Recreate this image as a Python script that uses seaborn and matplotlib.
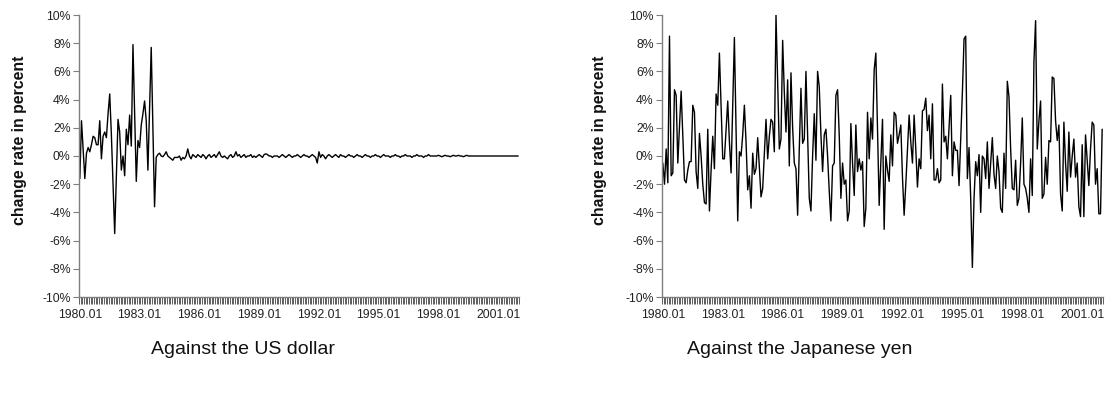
import matplotlib
matplotlib.use("Agg")
import matplotlib.pyplot as plt
import matplotlib.transforms as mtransforms
import seaborn as sns
import pandas as pd
from matplotlib.ticker import FixedLocator, FuncFormatter

sns.set_theme(style="white")
plt.rcParams['font.family'] = ['Liberation Sans', 'DejaVu Sans']

# ---- data: monthly change rate (%) of the exchange rate, 1980.01 - 2002.01 ----
usd_1980_1983 = [-1.6, 2.5, 0.5, -1.6, 0.2, 0.6, 0.3, 0.8, 1.4, 1.3, 0.8, 0.8,
                 2.5, -0.2, 1.4, 1.7, 1.3, 3.0, 4.4, 1.5, -2.0, -5.5, -1.5, 2.6,
                 1.7, -1.0, 0.0, -1.4, 1.9, 0.8, 2.9, 0.7, 7.9, 3.0, -1.8, 1.1,
                 0.6, 2.2, 3.0, 3.9, 2.5, -1.0, 3.3, 7.7, 2.0, -3.6, -0.1]
usd_1983_1990 = [0.1, 0.2, 0.0, -0.05, 0.1, 0.3, 0.0, -0.1, -0.2, -0.3, -0.1, -0.1,
                 -0.1, 0.0, -0.3, -0.1, -0.2, 0.0, 0.5, 0.0, -0.2, 0.1, 0.0, -0.1,
                 0.1, 0.0, -0.1, 0.1, 0.0, -0.2, 0.0, 0.1, -0.1, 0.0, 0.1, -0.1,
                 0.1, 0.3, 0.0, -0.1, 0.0, -0.1, -0.2, 0.0, 0.1, -0.1, 0.0, 0.3,
                 0.0, 0.1, -0.1, 0.0, 0.1, -0.1, 0.0, 0.0, 0.1, -0.1, 0.0, -0.1,
                 0.0, 0.1, 0.0, -0.1, 0.1, 0.15, 0.1, 0.0, 0.0, -0.1, 0.0, 0.0]
usd_1990_2002 = [0.0, -0.1, 0.0, 0.1, 0.0, -0.1, 0.0, 0.1, 0.0, -0.1, 0.0, 0.0,
                 0.1, 0.0, -0.1, 0.0, 0.1, 0.0, 0.0, -0.1, 0.0, 0.1, 0.0, -0.1,
                 -0.5, 0.3, -0.1, 0.1, 0.0, -0.2, 0.0, 0.1, 0.0, -0.1, 0.0, 0.1,
                 0.0, -0.1, 0.1, 0.0, 0.0, -0.1, 0.0, 0.1, 0.0, 0.0, -0.1, 0.0,
                 0.1, 0.0, 0.0, -0.1, 0.0, 0.1, 0.0, 0.0, -0.1, 0.0, 0.0, 0.1,
                 0.0, 0.0, -0.1, 0.0, 0.1, 0.0, 0.0, 0.0, -0.1, 0.0, 0.0, 0.1,
                 0.0, 0.0, -0.1, 0.0, 0.0, 0.1, 0.0, 0.0, 0.0, -0.1, 0.0, 0.0,
                 0.1, 0.0, 0.0, 0.0, -0.1, 0.0, 0.0, 0.1, 0.0, 0.0, 0.0, 0.0,
                 0.0, 0.05, 0.0, -0.05, 0.0, 0.05, 0.0, 0.0, -0.05, 0.0, 0.05, 0.0,
                 0.0, 0.05, 0.0, 0.0, -0.05, 0.0, 0.05, 0.0, 0.0, 0.0, 0.0, 0.0,
                 0.0, 0.0, 0.0, 0.0, 0.0, 0.0, 0.0, 0.0, 0.0, 0.0, 0.0, 0.0,
                 0.0, 0.0, 0.0, 0.0, 0.0, 0.0, 0.0, 0.0, 0.0, 0.0, 0.0, 0.0,
                 0.0, 0.0]

jpy_1980_1987 = [-0.5, -2.0, 0.5, -1.9, 8.5, -1.4, -1.2, 4.7, 4.3, -0.5, 2.0, 4.6,
                 1.5, -1.7, -1.9, -1.0, -0.4, -0.4, 3.6, 3.1, -1.1, -2.3, 1.6, 0.0,
                 -2.0, -3.3, -3.4, 1.9, -3.9, -1.0, 1.4, -0.9, 4.4, 3.6, 7.3, 3.5,
                 -0.2, -0.2, 1.8, 3.9, 1.0, -1.2, 3.5, 8.4, 2.0, -4.6, 0.3, 0.0,
                 1.5, 3.6, 1.0, -2.4, -1.4, -3.7, 0.2, -1.3, -0.9, 1.3, -0.8, -2.9,
                 -2.3, 0.2, 2.6, -0.2, 1.4, 2.6, 2.4, 0.3, 10.0, 5.2, 0.5, 1.2,
                 8.2, 4.5, 1.7, 5.4, -0.7, 5.9, 2.0, -0.5, -0.9, -4.2, 0.5, 4.8,
                 0.9, 1.2, 6.0, 1.5, -3.0, -3.9]
jpy_1987_1994 = [0.0, 3.0, -0.3, 6.0, 4.9, 1.5, -1.1, 1.5, 1.9, 0.0, -2.5, -4.6,
                 -0.7, -0.5, 4.3, 4.7, 1.5, -3.0, -0.5, -2.0, -1.7, -4.6, -3.9, 2.3,
                 -0.5, -2.8, 2.2, -1.1, -0.2, -1.0, -0.4, -5.0, -3.7, 3.1, -0.2, 2.7,
                 1.2, 6.1, 7.3, 2.0, -3.5, -0.5, 2.6, -5.2, 0.0, -1.0, -1.8, 1.5,
                 -0.7, 3.1, 2.9, 0.9, 1.5, 2.2, -1.5, -4.2, -2.0, 0.5, 2.9, 1.0,
                 -0.5, 2.9, 0.5, -2.2, -0.2, -0.9, 3.2, 3.3, 4.1, 1.8, 2.9, -0.2,
                 3.7, -1.7, -1.7, -0.9, -1.9, -1.7, 5.1, 1.0, 1.4, -0.2, 2.0, 4.3,
                 -1.4, 1.0]
jpy_1994_2002 = [0.4, 0.4, -2.1, 1.1, 4.5, 8.3, 8.5, -1.6, 0.6, -3.0, -7.9, -3.0,
                 -0.4, -1.4, 0.1, -4.0, 0.0, -0.2, -1.6, 1.0, -2.3, -0.5, 1.3, -1.3,
                 -2.3, 0.0, -1.1, -3.7, -4.0, 0.2, -2.3, 5.3, 4.2, 0.5, -2.3, -2.4,
                 -0.3, -3.5, -3.0, -0.5, 2.7, -2.0, -2.3, -3.0, -4.0, -0.2, -2.8, 6.7,
                 9.6, 0.5, 2.5, 3.9, -3.0, -2.7, -0.1, -2.0, 1.1, 1.0, 5.6, 5.5,
                 2.5, 1.1, 2.2, -2.7, -3.9, 2.4, -0.5, -2.5, 1.7, -1.5, 0.0, 1.2,
                 -1.5, -0.5, -3.6, -4.3, 0.8, -4.3, 1.5, -0.3, -2.1, 0.5, 2.4, 2.2,
                 -2.0, -0.9, -4.1, -4.1, 1.9]

start_year = 1980
label_every = 36
y_ticks = [-10, -8, -6, -4, -2, 0, 2, 4, 6, 8, 10]
ylabel = "change rate in percent"
titles = ["Against the US dollar", "Against the Japanese yen"]

usd = usd_1980_1983 + usd_1983_1990 + usd_1990_2002
jpy = jpy_1980_1987 + jpy_1987_1994 + jpy_1994_2002
n = len(jpy)
assert len(usd) == n, (len(usd), n)
months = [f"{start_year + i // 12}.{i % 12 + 1:02d}" for i in range(n)]
df = pd.DataFrame({"idx": range(n), "month": months, "usd": usd, "jpy": jpy})

fig = plt.figure(figsize=(11.06, 3.99), dpi=100)
W, H = 1106, 399
axes = [fig.add_axes([79 / W, 1 - 297 / H, 440 / W, 282 / H]),
        fig.add_axes([662 / W, 1 - 297 / H, 441 / W, 282 / H])]
title_x = [243 / W, 800 / W]
ylabel_x = [27, 607]
axis_col = "#7f7f7f"
shift = mtransforms.ScaledTranslation(-4 / 100, 0, fig.dpi_scale_trans)
for ax, col, title, tx, lx in zip(axes, ["usd", "jpy"], titles, title_x, ylabel_x):
    sns.lineplot(data=df, x="idx", y=col, ax=ax, color="black", linewidth=1.0)
    ax.set_xlim(-0.5, n - 0.5)
    ax.set_ylim(-10, 10)
    ax.set_yticks(y_ticks)
    ax.yaxis.set_major_formatter(FuncFormatter(lambda v, p: f"{v:.0f}%"))
    lab_idx = list(range(0, n, label_every))
    ax.xaxis.set_major_locator(FixedLocator(lab_idx))
    ax.set_xticklabels([months[i] for i in lab_idx])
    for lab in ax.get_xticklabels():
        lab.set_transform(lab.get_transform() + shift)
    ax.xaxis.set_minor_locator(FixedLocator([i - 0.5 for i in range(n + 1)]))
    ax.tick_params(axis="x", which="major", length=0, pad=9, labelsize=8.8, colors="#222222")
    ax.tick_params(axis="x", which="minor", length=5, width=0.6, color="#444444", direction="out", bottom=True)
    ax.tick_params(axis="y", which="major", length=4, width=0.8, color=axis_col, direction="out",
                   left=True, labelsize=8.8, labelcolor="#222222", pad=2)
    for s in ["top", "right"]:
        ax.spines[s].set_visible(False)
    for s in ["left", "bottom"]:
        ax.spines[s].set_color(axis_col)
        ax.spines[s].set_linewidth(1.0)
    ax.set_xlabel("")
    ax.set_ylabel(ylabel, fontsize=11.4, fontweight="bold", color="#111111")
    bb = ax.get_position()
    ax.yaxis.set_label_coords((lx / W - bb.x0) / bb.width, (297 - 140) / 282)
    ax.grid(False)
    fig.text(tx, 1 - 350 / H, title, ha="center", va="center", fontsize=14, color="#111111")

fig.savefig("out.png", dpi=100)
